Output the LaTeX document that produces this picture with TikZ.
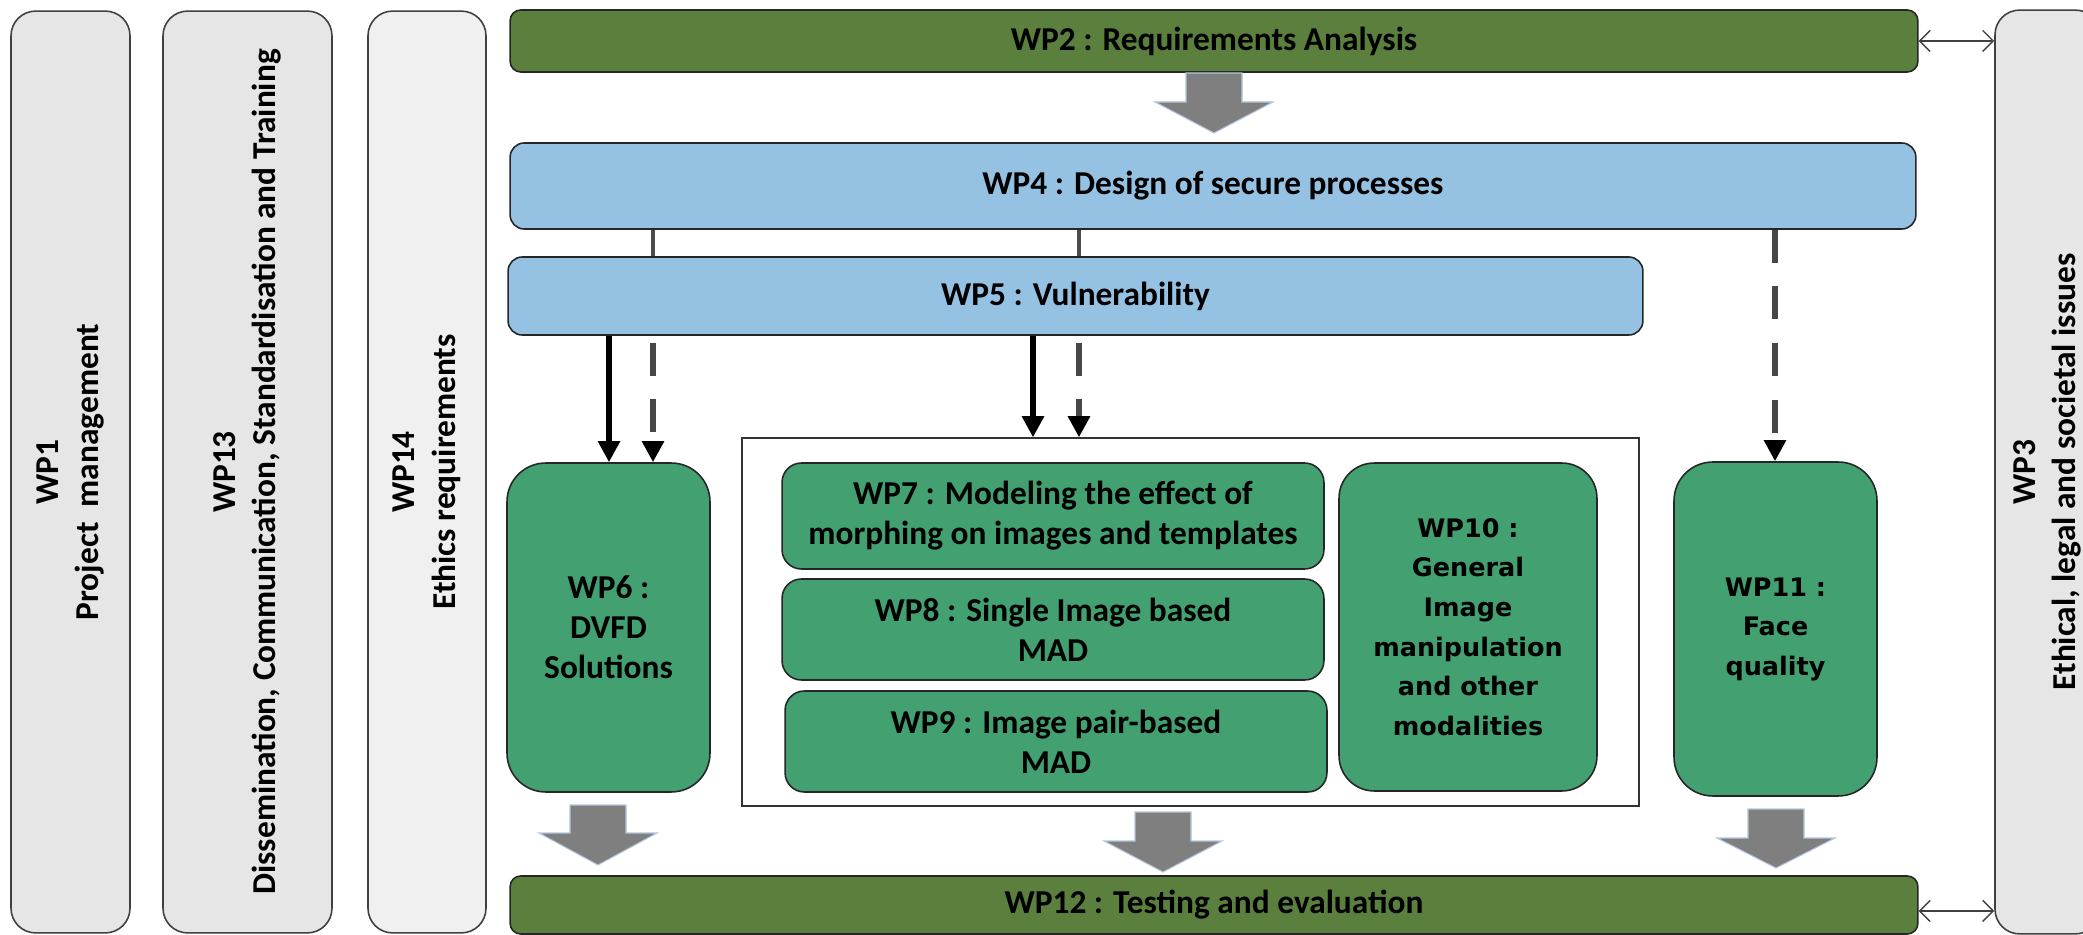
\documentclass[tikz,border=0pt]{standalone}
\usepackage{fontspec}
\setmainfont{Carlito}
\newfontfamily\verd{DejaVu Sans}
\usetikzlibrary{arrows.meta}
\definecolor{dgreen}{HTML}{5B7F3D}
\definecolor{lblue}{HTML}{95C2E3}
\definecolor{mgreen}{HTML}{42A071}
\definecolor{side}{HTML}{E6E6E6}
\definecolor{sidel}{HTML}{F0F0F0}
\definecolor{blk}{HTML}{7F7F7F}
\definecolor{blkedge}{HTML}{B4C6DC}
\newcommand\blockarr[4]{%
  \path[blockarrow] ({#1-28},#2) -- ({#1+28},#2) -- ({#1+28},#3) -- ({#1+59},#3) -- (#1,#4) -- ({#1-59},#3) -- ({#1-28},#3) -- cycle;}
\begin{document}
\begin{tikzpicture}[x=0.02cm,y=-0.02cm,
  base/.style={draw=black!85, line width=0.9pt, inner sep=0pt, align=center,
    font=\fontsize{19}{22.8}\selectfont\bfseries},
  sidebox/.style={base, fill=side, draw=black!75, rounded corners=14pt},
  barbox/.style={base, fill=dgreen, rounded corners=6pt},
  bluebox/.style={base, fill=lblue, rounded corners=8pt},
  greenbox/.style={base, fill=mgreen, rounded corners=11pt},
  tallbox/.style={base, fill=mgreen, rounded corners=22pt},
  vfont/.style={font=\verd\fontsize{14.5}{22.5}\selectfont\bfseries},
  grpframe/.style={draw=black!80, line width=0.8pt, fill=white, inner sep=0pt},
  link/.style={draw=black!70, line width=2.5pt},
  dlink/.style={draw=black!72, line width=3.3pt, dash pattern=on 18.8pt off 13.4pt,
    -{Triangle[length=12pt,width=12pt,color=black]}},
  solarrow/.style={draw=black, line width=3.3pt, -{Triangle[length=12pt,width=12pt]}},
  biarrow/.style={draw=black!75, line width=0.8pt,
    {Straight Barb[length=6pt,width=12pt]}-{Straight Barb[length=6pt,width=12pt]}},
  blockarrow/.style={fill=blk, draw=blkedge, line width=0.6pt},
]
\useasboundingbox (0,0) rectangle (2083,935);
\clip (0,0) rectangle (2083,935);
\fill[white] (0,0) rectangle (2083,935);

% side columns
\node[sidebox, minimum width=2.38cm, minimum height=18.44cm] (wp1) at (70.5,472)
  {\rotatebox{90}{\begin{tabular}{@{}c@{}}WP1\\Project\ \ management\end{tabular}}};
\node[sidebox, minimum width=3.38cm, minimum height=18.44cm] (wp13) at (247.5,472)
  {\rotatebox{90}{\begin{tabular}{@{}c@{}}WP13\\Dissemination, Communication, Standardisation and Training\end{tabular}}};
\node[sidebox, fill=sidel, minimum width=2.36cm, minimum height=18.44cm] (wp14) at (427,472)
  {\rotatebox{90}{\begin{tabular}{@{}c@{}}WP14\\Ethics requirements\end{tabular}}};
\node[sidebox, minimum width=2.10cm, minimum height=18.48cm] (wp3) at (2047.5,472)
  {\rotatebox{90}{\begin{tabular}{@{}c@{}}WP3\\Ethical, legal and societal issues\end{tabular}}};

% horizontal bars
\node[barbox, minimum width=28.16cm, minimum height=1.24cm] (wp2) at (1214,41) {WP2 : Requirements Analysis};
\node[bluebox, minimum width=28.12cm, minimum height=1.72cm] (wp4) at (1213,186) {WP4 : Design of secure processes};
\node[bluebox, minimum width=22.7cm, minimum height=1.56cm] (wp5) at (1075.5,296) {WP5 : Vulnerability};
\node[barbox, minimum width=28.16cm, minimum height=1.16cm] (wp12) at (1214,905) {WP12 : Testing and evaluation};

% group frame and work packages
\node[grpframe, minimum width=17.94cm, minimum height=7.36cm] (grp) at (1190.5,622) {};
\node[tallbox, minimum width=4.06cm, minimum height=6.58cm] (wp6) at (608.5,627.5) {WP6 :\\DVFD\\Solutions};
\node[greenbox, minimum width=10.84cm, minimum height=2.12cm] (wp7) at (1053,516)
  {WP7 : Modeling the effect of\\morphing on images and templates};
\node[greenbox, minimum width=10.84cm, minimum height=2.02cm] (wp8) at (1053,629.5)
  {WP8 : Single Image based\\MAD};
\node[greenbox, minimum width=10.84cm, minimum height=2.02cm] (wp9) at (1056,741.5)
  {WP9 : Image pair-based\\MAD};
\node[tallbox, vfont, rounded corners=20pt, minimum width=5.16cm, minimum height=6.56cm] (wp10) at (1468,627)
  {WP10 :\\General\\Image\\manipulation\\and other\\modalities};
\node[tallbox, vfont, minimum width=4.06cm, minimum height=6.68cm] (wp11) at (1775.5,629)
  {WP11 :\\Face\\quality};

% connector columns
\coordinate (c1) at (653,0);
\coordinate (c2) at (1079,0);
\coordinate (c3) at (1775,0);
\coordinate (s1) at (609,0);
\coordinate (s2) at (1033,0);

\draw[link] (wp4.south -| c1) -- (wp5.north -| c1);
\draw[link] (wp4.south -| c2) -- (wp5.north -| c2);
\draw[dlink, dash phase=28.2pt] (wp5.south -| c1) -- (wp6.north -| c1);
\draw[dlink, dash phase=28.2pt] (wp5.south -| c2) -- (grp.north -| c2);
\draw[dlink] (wp4.south -| c3) -- (wp11.north -| c3);
\draw[solarrow] (wp5.south -| s1) -- (wp6.north -| s1);
\draw[solarrow] (wp5.south -| s2) -- (grp.north -| s2);

\draw[biarrow] (wp2.east) -- (wp2.east -| wp3.west);
\draw[biarrow] ([yshift=-3.4pt]wp12.east) -- ([yshift=-3.4pt]wp12.east -| wp3.west);

% block arrows
\blockarr{1214}{73}{102}{133}
\blockarr{598}{805}{833}{865}
\blockarr{1163}{812}{841}{872}
\blockarr{1776}{809}{838}{868}
\end{tikzpicture}
\end{document}
